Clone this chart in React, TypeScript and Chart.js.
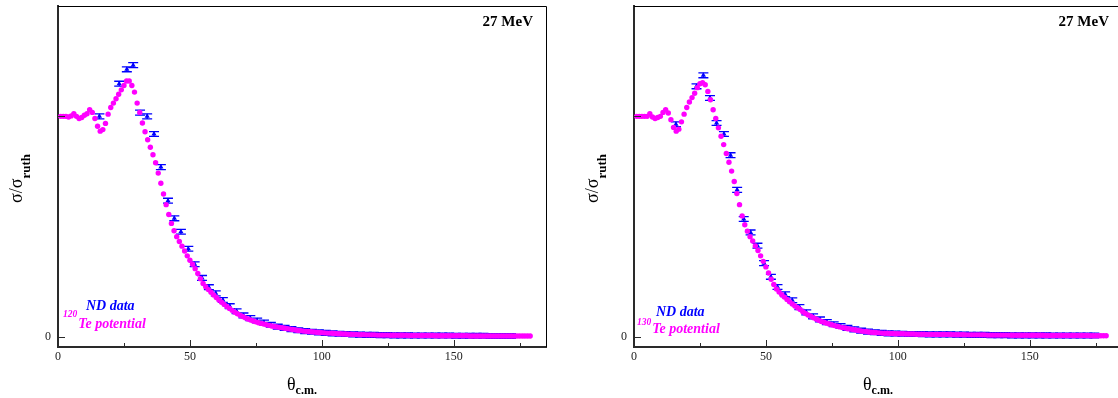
import React, { useEffect, useRef } from "react";
import { Chart, registerables } from "chart.js";

Chart.register(...registerables);

// Angles of the optical-model calculation (degrees, c.m.)
const CALC_THETA = [
  1, 2, 3, 4, 5, 6, 7, 8, 9, 10, 11, 12, 13, 14, 15, 16, 17, 18, 19, 20,
  21, 22, 23, 24, 25, 26, 27, 28, 29, 30, 31, 32, 33, 34, 35, 36, 37, 38, 39, 40,
  41, 42, 43, 44, 45, 46, 47, 48, 49, 50, 51, 52, 53, 54, 55, 56, 57, 58, 59, 60,
  61, 62, 63, 64, 65, 66, 67, 68, 69, 70, 71, 72, 73, 74, 75, 76, 77, 78, 79, 80,
  81, 82, 83, 84, 85, 86, 87, 88, 89, 90, 91, 92, 93, 94, 95, 96, 97, 98, 99, 100,
  101, 102, 103, 104, 105, 106, 107, 108, 109, 110, 111, 112, 113, 114, 115, 116, 117, 118, 119, 120,
  121, 122, 123, 124, 125, 126, 127, 128, 129, 130, 131, 132, 133, 134, 135, 136, 137, 138, 139, 140,
  141, 142, 143, 144, 145, 146, 147, 148, 149, 150, 151, 152, 153, 154, 155, 156, 157, 158, 159, 160,
  161, 162, 163, 164, 165, 166, 167, 168, 169, 170, 171, 172, 173, 174, 175, 176, 177, 178, 179,
];

// 120Te potential (left panel)
const CALC_120TE = [
  1.0, 1.0, 1.0, 0.997, 1.002, 1.012, 1.0, 0.99, 0.995, 1.005,
  1.012, 1.03, 1.018, 0.99, 0.955, 0.933, 0.94, 0.968, 1.01, 1.04,
  1.06, 1.08, 1.1, 1.12, 1.14, 1.16, 1.16, 1.14, 1.11, 1.06,
  1.018, 0.97, 0.93, 0.894, 0.86, 0.826, 0.79, 0.743, 0.697, 0.648,
  0.6, 0.555, 0.515, 0.482, 0.455, 0.433, 0.412, 0.39, 0.368, 0.348,
  0.33, 0.31, 0.288, 0.264, 0.243, 0.228, 0.215, 0.203, 0.191, 0.179,
  0.168, 0.158, 0.148, 0.139, 0.13, 0.121, 0.113, 0.106, 0.099, 0.093,
  0.087, 0.082, 0.077, 0.073, 0.069, 0.065, 0.062, 0.059, 0.056, 0.053,
  0.05, 0.048, 0.046, 0.044, 0.042, 0.04, 0.038, 0.036, 0.034, 0.032,
  0.03, 0.029, 0.027, 0.026, 0.025, 0.024, 0.023, 0.022, 0.021, 0.02,
  0.019, 0.018, 0.018, 0.017, 0.016, 0.015, 0.015, 0.014, 0.014, 0.013,
  0.013, 0.012, 0.012, 0.011, 0.011, 0.011, 0.01, 0.01, 0.01, 0.01,
  0.009, 0.009, 0.009, 0.009, 0.009, 0.008, 0.008, 0.008, 0.008, 0.008,
  0.008, 0.008, 0.007, 0.007, 0.007, 0.007, 0.007, 0.007, 0.007, 0.007,
  0.007, 0.007, 0.006, 0.006, 0.006, 0.006, 0.006, 0.006, 0.006, 0.006,
  0.006, 0.006, 0.006, 0.006, 0.006, 0.005, 0.005, 0.005, 0.005, 0.005,
  0.005, 0.005, 0.005, 0.005, 0.005, 0.005, 0.005, 0.005, 0.005, 0.005,
  0.005, 0.005, 0.005, 0.005, 0.005, 0.005, 0.005, 0.005, 0.005,
];

// 130Te potential (right panel)
const CALC_130TE = [
  1.0, 1.0, 1.0, 1.0, 1.0, 1.012, 0.997, 0.99, 0.995, 1.0,
  1.018, 1.03, 1.015, 0.985, 0.95, 0.933, 0.942, 0.975, 1.01, 1.04,
  1.065, 1.085, 1.105, 1.13, 1.148, 1.152, 1.143, 1.113, 1.075, 1.03,
  0.99, 0.948, 0.91, 0.872, 0.832, 0.792, 0.752, 0.705, 0.65, 0.6,
  0.549, 0.509, 0.48, 0.455, 0.435, 0.413, 0.392, 0.368, 0.343, 0.318,
  0.29, 0.262, 0.238, 0.218, 0.204, 0.192, 0.181, 0.17, 0.16, 0.15,
  0.141, 0.133, 0.125, 0.115, 0.107, 0.1, 0.094, 0.088, 0.082, 0.076,
  0.071, 0.067, 0.063, 0.059, 0.056, 0.052, 0.049, 0.046, 0.043, 0.041,
  0.038, 0.036, 0.034, 0.032, 0.03, 0.028, 0.026, 0.025, 0.023, 0.022,
  0.021, 0.02, 0.019, 0.018, 0.017, 0.017, 0.016, 0.016, 0.015, 0.015,
  0.015, 0.015, 0.014, 0.014, 0.014, 0.014, 0.013, 0.013, 0.013, 0.013,
  0.012, 0.012, 0.012, 0.012, 0.012, 0.012, 0.012, 0.012, 0.012, 0.012,
  0.011, 0.011, 0.011, 0.011, 0.011, 0.01, 0.01, 0.01, 0.01, 0.01,
  0.01, 0.01, 0.01, 0.009, 0.009, 0.009, 0.009, 0.009, 0.009, 0.009,
  0.009, 0.009, 0.008, 0.008, 0.008, 0.008, 0.008, 0.008, 0.008, 0.008,
  0.008, 0.008, 0.008, 0.008, 0.008, 0.007, 0.007, 0.007, 0.007, 0.007,
  0.007, 0.007, 0.007, 0.007, 0.007, 0.007, 0.007, 0.007, 0.007, 0.007,
  0.007, 0.007, 0.006, 0.006, 0.006, 0.006, 0.006, 0.006, 0.006,
];

// ND data, left panel
const ND_120_THETA = [
  15.7, 23.2, 26.1, 28.5, 31.1, 33.8, 36.4, 39.0,
  41.7, 44.1, 46.6, 49.4, 51.8, 54.6, 57.2, 59.8,
  62.5, 65.1, 67.7, 70.3, 72.9, 75.5, 78.1, 80.7,
  83.3, 85.9, 88.5, 91.1, 93.7, 96.3, 98.9, 101.5,
  104.1, 106.7, 109.3, 111.9, 114.5, 117.1, 119.7, 122.3,
  124.9, 127.5, 130.1, 132.7, 135.3, 137.9, 140.5, 143.1,
  145.7, 148.3, 150.9, 153.5, 156.1, 158.7, 161.3, 163.9,
  166.5, 169.1, 171.7,
];
const ND_120_VALUE = [
  1.0, 1.148, 1.213, 1.232, 1.017, 1.0, 0.92, 0.77,
  0.618, 0.538, 0.477, 0.4, 0.33, 0.268, 0.226, 0.198,
  0.168, 0.14, 0.117, 0.098, 0.086, 0.075, 0.066, 0.056,
  0.047, 0.042, 0.036, 0.031, 0.027, 0.024, 0.021, 0.019,
  0.017, 0.015, 0.014, 0.012, 0.011, 0.01, 0.01, 0.009,
  0.009, 0.008, 0.008, 0.008, 0.007, 0.007, 0.007, 0.007,
  0.007, 0.007, 0.006, 0.006, 0.006, 0.006, 0.006, 0.005,
  0.005, 0.005, 0.005,
];

// ND data, right panel
const ND_130_THETA = [
  15.9, 23.7, 26.3, 28.8, 31.3, 34.1, 36.6, 39.1,
  41.6, 44.2, 46.8, 49.3, 51.9, 54.4, 57.3, 60.0,
  62.7, 65.3, 67.9, 70.5, 73.1, 75.7, 78.3, 80.9,
  83.5, 86.1, 88.7, 91.3, 93.9, 96.5, 99.1, 101.7,
  104.3, 106.9, 109.5, 112.1, 114.7, 117.3, 119.9, 122.5,
  125.1, 127.7, 130.3, 132.9, 135.5, 138.1, 140.7, 143.3,
  145.9, 148.5, 151.1, 153.7, 156.3, 158.9, 161.5, 164.1,
  166.7, 169.3, 171.9, 174.5,
];
const ND_130_VALUE = [
  0.964, 1.136, 1.186, 1.083, 0.97, 0.92, 0.824, 0.667,
  0.535, 0.474, 0.414, 0.335, 0.273, 0.227, 0.194, 0.167,
  0.136, 0.112, 0.094, 0.08, 0.068, 0.058, 0.05, 0.042,
  0.035, 0.029, 0.025, 0.022, 0.019, 0.017, 0.016, 0.015,
  0.014, 0.014, 0.013, 0.012, 0.012, 0.012, 0.012, 0.011,
  0.011, 0.01, 0.01, 0.01, 0.009, 0.009, 0.009, 0.008,
  0.008, 0.008, 0.008, 0.008, 0.008, 0.007, 0.007, 0.007,
  0.007, 0.007, 0.007, 0.007,
];

const ND_ERROR = 0.011;

const X_TICKS = [0, 50, 100, 150];
const X_MINOR_TICKS = [25, 75, 125, 175];
const Y_TICKS = [0, 1];
const X_MIN = 0;
const X_MAX = 185;
const Y_MIN = -0.045;
const Y_MAX = 1.5;

const ENERGY_LABEL = "27 MeV";
const DATA_LABEL = "ND data";
const POTENTIAL_LABEL = "Te potential";

const SERIF = '"Liberation Serif", "Times New Roman", serif';
const MAGENTA = "#ff00ff";
const BLUE = "#0000ff";
const AXIS = "#2a2a2a";

type LegendPos = { ndX: number; ndY: number; supX: number; supY: number; teY: number };

type PanelProps = {
  left: number;
  calc: number[];
  ndTheta: number[];
  ndValue: number[];
  isotope: string;
  legend: LegendPos;
};

function zeroPadding(s: any) {
  s.paddingTop = 0;
  s.paddingBottom = 0;
  s.paddingLeft = 0;
  s.paddingRight = 0;
}

function Panel({ left, calc, ndTheta, ndValue, isotope, legend }: PanelProps) {
  const ref = useRef<HTMLCanvasElement | null>(null);

  useEffect(() => {
    if (!ref.current) return;

    const decor = {
      id: "decor",
      beforeDatasetsDraw(chart: any) {
        const { ctx, chartArea: a, scales } = chart;
        const x = scales.x;
        const y = scales.y;
        ctx.save();
        ctx.beginPath();
        ctx.rect(a.left, a.top, a.right - a.left, a.bottom - a.top);
        ctx.clip();
        ctx.strokeStyle = BLUE;
        ctx.lineWidth = 1.3;
        ndTheta.forEach((t, i) => {
          const px = x.getPixelForValue(t);
          const v = ndValue[i];
          const yt = y.getPixelForValue(v + ND_ERROR);
          const yb = y.getPixelForValue(v - ND_ERROR);
          ctx.beginPath();
          ctx.moveTo(px, yt);
          ctx.lineTo(px, yb);
          ctx.moveTo(px - 5, yt);
          ctx.lineTo(px + 5, yt);
          ctx.moveTo(px - 5, yb);
          ctx.lineTo(px + 5, yb);
          ctx.stroke();
        });
        ctx.restore();
      },
      afterDraw(chart: any) {
        const { ctx, chartArea: a, scales } = chart;
        const x = scales.x;
        const y = scales.y;
        ctx.save();
        // frame (top and right)
        ctx.strokeStyle = "#000";
        ctx.lineWidth = 1;
        ctx.beginPath();
        ctx.moveTo(a.left, a.top + 0.5);
        ctx.lineTo(a.right + 0.5, a.top + 0.5);
        ctx.lineTo(a.right + 0.5, a.bottom);
        ctx.stroke();

        // inward tick marks
        ctx.strokeStyle = AXIS;
        ctx.lineWidth = 1;
        ctx.beginPath();
        X_TICKS.forEach((v) => {
          const px = Math.round(x.getPixelForValue(v)) + 0.5;
          ctx.moveTo(px, a.bottom);
          ctx.lineTo(px, a.bottom - 7);
        });
        X_MINOR_TICKS.forEach((v) => {
          const px = Math.round(x.getPixelForValue(v)) + 0.5;
          ctx.moveTo(px, a.bottom);
          ctx.lineTo(px, a.bottom - 4);
        });
        Y_TICKS.forEach((v) => {
          const py = Math.round(y.getPixelForValue(v)) + 0.5;
          ctx.moveTo(a.left, py);
          ctx.lineTo(a.left + 7, py);
        });
        ctx.stroke();

        // energy label
        ctx.fillStyle = "#000";
        ctx.font = `bold 15px ${SERIF}`;
        ctx.textAlign = "right";
        ctx.textBaseline = "alphabetic";
        ctx.fillText(ENERGY_LABEL, a.right - 13, 26);

        // x title: theta_c.m.
        ctx.textAlign = "left";
        ctx.font = `18px ${SERIF}`;
        const tx = a.left + 229;
        ctx.fillText("θ", tx, 390);
        const tw = ctx.measureText("θ").width;
        ctx.font = `bold 12px ${SERIF}`;
        ctx.fillText("c.m.", tx + tw, 394);

        // y title: sigma/sigma_ruth
        ctx.save();
        ctx.translate(a.left - 36, 203);
        ctx.rotate(-Math.PI / 2);
        ctx.font = `18px ${SERIF}`;
        ctx.fillText("σ/σ", 0, 0);
        const sw = ctx.measureText("σ/σ").width;
        ctx.font = `bold 13px ${SERIF}`;
        ctx.fillText("ruth", sw, 8);
        ctx.restore();

        // legend
        ctx.fillStyle = BLUE;
        ctx.font = `bold italic 14px ${SERIF}`;
        ctx.fillText(DATA_LABEL, a.left + legend.ndX, legend.ndY);
        ctx.fillStyle = MAGENTA;
        ctx.font = `bold italic 9.5px ${SERIF}`;
        ctx.fillText(isotope, a.left + legend.supX, legend.supY);
        const iw = ctx.measureText(isotope).width;
        ctx.font = `bold italic 14px ${SERIF}`;
        ctx.fillText(POTENTIAL_LABEL, a.left + legend.supX + iw + 1, legend.teY);
        ctx.restore();
      },
    };

    const chart = new Chart(ref.current, {
      type: "scatter",
      data: {
        datasets: [
          {
            label: isotope + POTENTIAL_LABEL,
            data: CALC_THETA.map((t, i) => ({ x: t, y: calc[i] })),
            pointStyle: "circle",
            pointRadius: 2.7,
            backgroundColor: MAGENTA,
            borderColor: MAGENTA,
            borderWidth: 0,
            order: 0,
          },
          {
            label: DATA_LABEL,
            data: ndTheta.map((t, i) => ({ x: t, y: ndValue[i] })),
            pointStyle: "triangle",
            pointRadius: 3,
            backgroundColor: BLUE,
            borderColor: BLUE,
            borderWidth: 0,
            order: 1,
          },
        ],
      },
      options: {
        animation: false,
        responsive: false,
        devicePixelRatio: 1,
        layout: { padding: { top: 6, right: 14, left: 0, bottom: 0 } },
        plugins: { legend: { display: false }, tooltip: { enabled: false } },
        events: [],
        scales: {
          x: {
            type: "linear",
            min: X_MIN,
            max: X_MAX,
            grid: { display: false, drawTicks: false },
            border: { display: true, width: 2, color: AXIS },
            afterBuildTicks: (s: any) => {
              s.ticks = X_TICKS.map((v) => ({ value: v }));
            },
            afterFit: (s: any) => {
              s.height = 51;
              zeroPadding(s);
            },
            ticks: {
              padding: 3,
              maxRotation: 0,
              color: "#222",
              font: { family: SERIF, size: 12 },
              callback: (v: any) => String(v),
            },
          },
          y: {
            type: "linear",
            min: Y_MIN,
            max: Y_MAX,
            grid: { display: false, drawTicks: false },
            border: { display: true, width: 2, color: AXIS },
            afterBuildTicks: (s: any) => {
              s.ticks = Y_TICKS.map((v) => ({ value: v }));
            },
            afterFit: (s: any) => {
              s.width = 58;
              zeroPadding(s);
            },
            ticks: {
              padding: 7,
              color: "#222",
              font: { family: SERIF, size: 12 },
              callback: (v: any) => (v === 0 ? "0" : ""),
            },
          },
        },
      },
      plugins: [decor],
    } as any);

    return () => chart.destroy();
  }, [calc, ndTheta, ndValue, isotope, legend]);

  return (
    <canvas
      ref={ref}
      width={560}
      height={398}
      style={{ position: "absolute", left, top: 0, width: 560, height: 398 }}
    />
  );
}

const LEFT_LEGEND: LegendPos = { ndX: 28, ndY: 310, supX: 5, supY: 317, teY: 328 };
const RIGHT_LEGEND: LegendPos = { ndX: 22, ndY: 316, supX: 3, supY: 325, teY: 333 };

export default function App() {
  return (
    <div
      style={{
        position: "absolute",
        left: 0,
        top: 0,
        width: 1118,
        height: 398,
        overflow: "hidden",
        background: "#fff",
      }}
    >
      <Panel left={0} calc={CALC_120TE} ndTheta={ND_120_THETA} ndValue={ND_120_VALUE} isotope="120" legend={LEFT_LEGEND} />
      <Panel left={576} calc={CALC_130TE} ndTheta={ND_130_THETA} ndValue={ND_130_VALUE} isotope="130" legend={RIGHT_LEGEND} />
    </div>
  );
}
